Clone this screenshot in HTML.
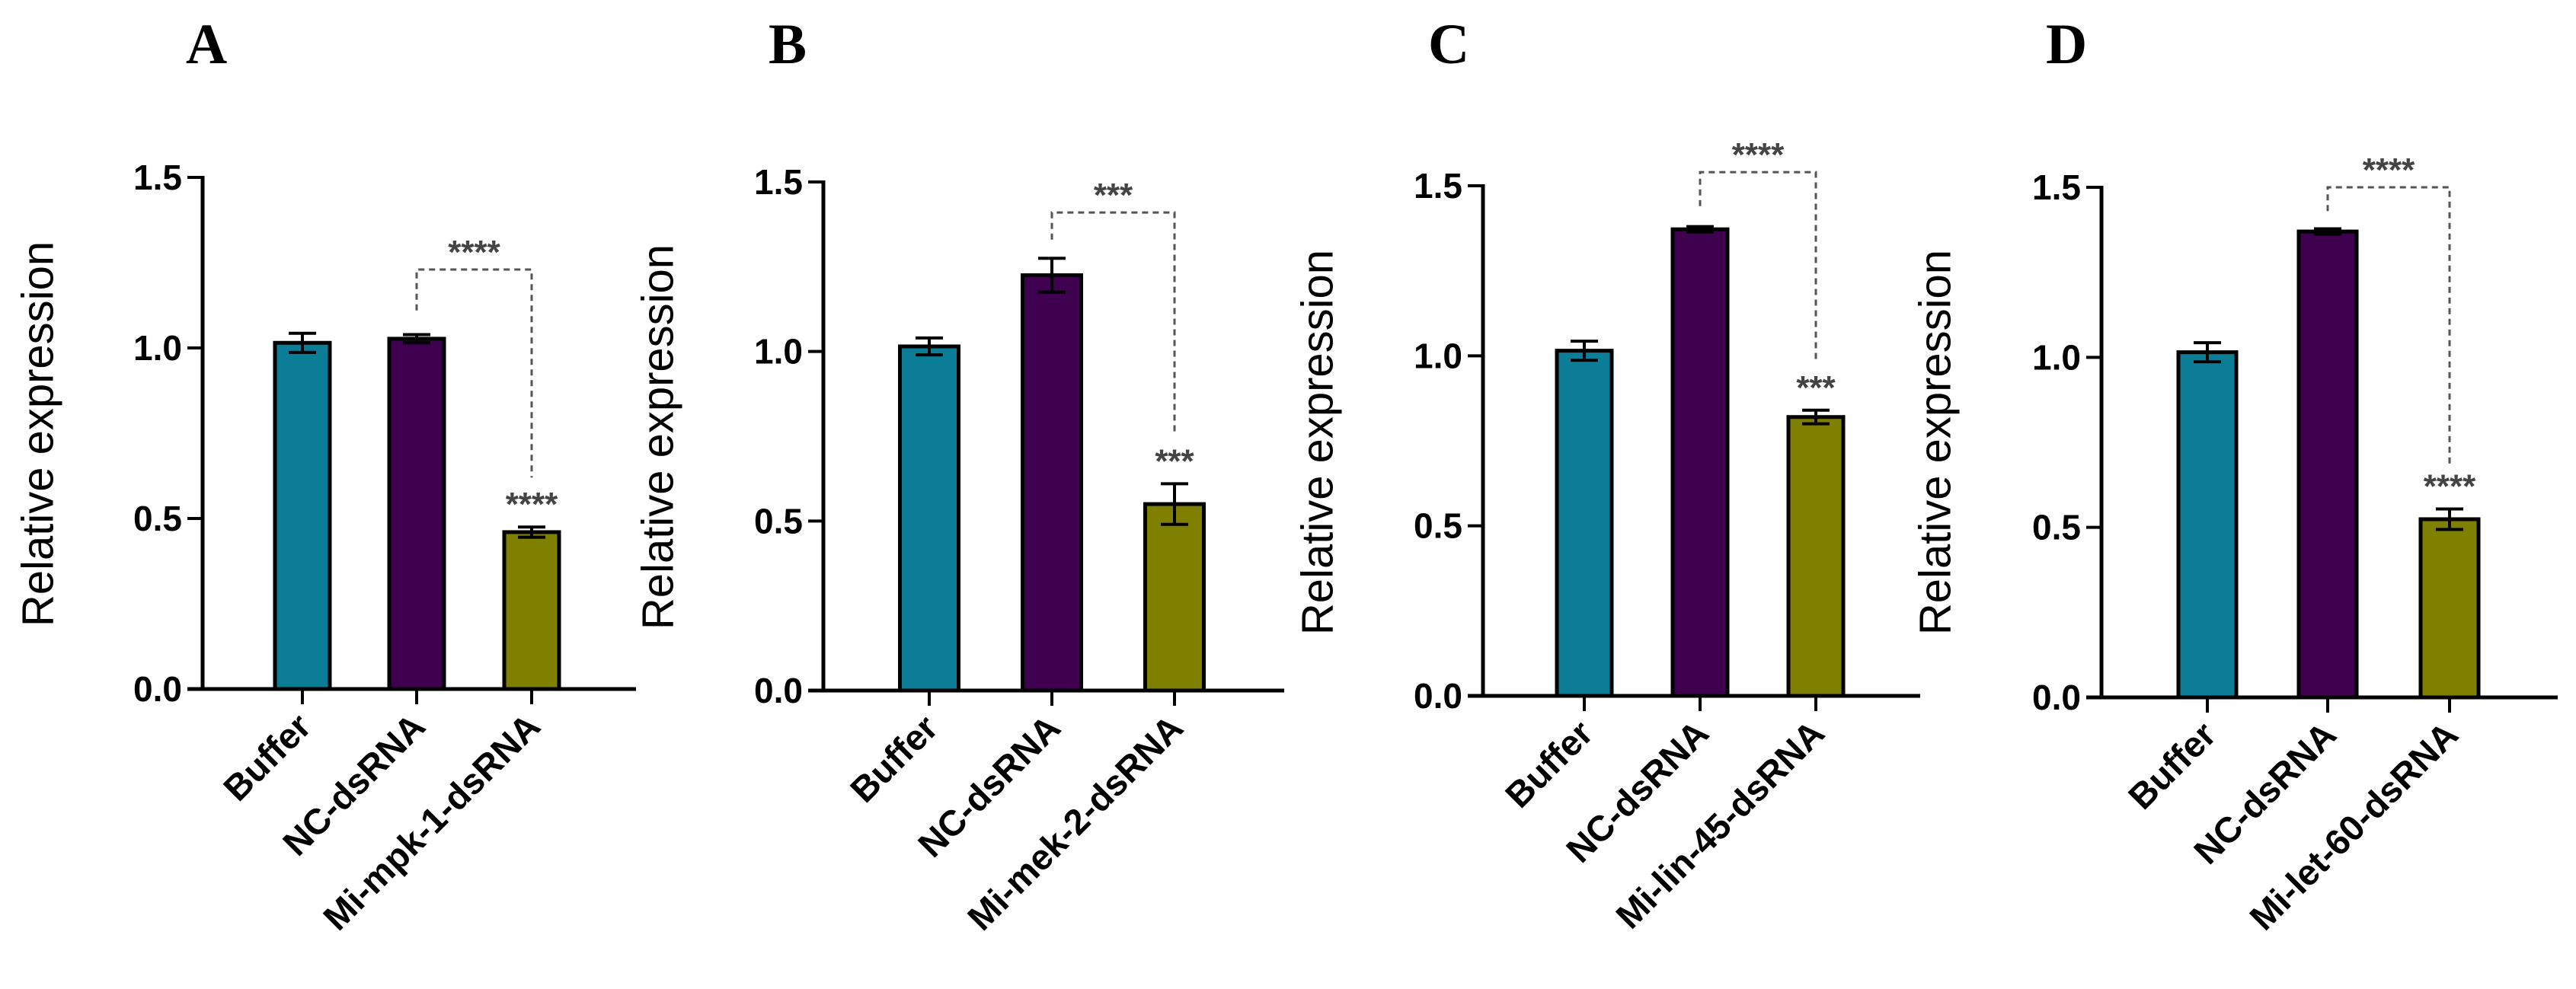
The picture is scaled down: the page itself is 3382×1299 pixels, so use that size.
<!DOCTYPE html>
<html>
<head>
<meta charset="utf-8">
<style>
html,body{margin:0;padding:0;background:#fff;}
svg{display:block;}
</style>
</head>
<body>
<svg id="fig" width="3382" height="1299" viewBox="0 0 3382 1299" xmlns="http://www.w3.org/2000/svg"></svg>
<script>
// ---- data ----
const categoriesA = ["Buffer", "NC-dsRNA", "Mi-mpk-1-dsRNA"];
const categoriesB = ["Buffer", "NC-dsRNA", "Mi-mek-2-dsRNA"];
const categoriesC = ["Buffer", "NC-dsRNA", "Mi-lin-45-dsRNA"];
const categoriesD = ["Buffer", "NC-dsRNA", "Mi-let-60-dsRNA"];
const valuesA = [1.015, 1.027, 0.46];
const valuesB = [1.015, 1.225, 0.55];
const valuesC = [1.015, 1.372, 0.82];
const valuesD = [1.015, 1.37, 0.524];
const errorsA = [0.028, 0.012, 0.015];
const errorsB = [0.025, 0.05, 0.06];
const errorsC = [0.028, 0.008, 0.02];
const errorsD = [0.028, 0.008, 0.03];
const bracketTop = [1.23, 1.41, 1.54, 1.5];
const bracketLeftEnd = [1.11, 1.33, 1.44, 1.43];
const bracketRightEnd = [0.62, 0.76, 0.98, 0.68];
const bracketStars = ["****", "***", "****", "****"];
const barStars = ["****", "***", "***", "****"];
const panelTitles = ["A", "B", "C", "D"];
const yTicks = [0, 0.5, 1.0, 1.5];
const yTickLabels = ["0.0", "0.5", "1.0", "1.5"];
const colors = ["#0b7d96", "#400050", "#7f7f00"];

// ---- layout (pixels, not data) ----
const layouts = [
  {ax:266, y0:905, y15:233, ticks:[397,547,698], bw:72, end:835, tx:244, ylx:50, yly:570},
  {ax:1081, y0:907, y15:239, ticks:[1220,1381,1542], bw:77, end:1686, tx:1009, ylx:864, yly:574},
  {ax:1947, y0:914, y15:244, ticks:[2080,2232,2384], bw:72, end:2521, tx:1875, ylx:1730, yly:581},
  {ax:2759, y0:916, y15:246, ticks:[2898,3056,3216], bw:76, end:3358, tx:2686, ylx:2541, yly:581}
];
const cats = [categoriesA, categoriesB, categoriesC, categoriesD];
const vals = [valuesA, valuesB, valuesC, valuesD];
const errs = [errorsA, errorsB, errorsC, errorsD];

const svg = document.getElementById('fig');
const NS = 'http://www.w3.org/2000/svg';
function mk(tag, attrs, parent){
  const e = document.createElementNS(NS, tag);
  for (const k in attrs) e.setAttribute(k, attrs[k]);
  (parent||svg).appendChild(e);
  return e;
}

for (let p = 0; p < 4; p++) {
  const L = layouts[p];
  const y = v => L.y0 - (L.y0 - L.y15) * v / 1.5;
  const g = mk('g', {});
  
  

  const t = mk('text', {x:L.tx, y:83, 'font-family':'Liberation Serif, serif', 'font-weight':'bold', 'font-size':75, fill:'#000'}, g);
  t.textContent = panelTitles[p];
  
  

  const yl = mk('text', {x:L.ylx, y:L.yly, transform:'rotate(-90 '+L.ylx+' '+L.yly+')', 'text-anchor':'middle', 'dominant-baseline':'central', 'font-family':'Liberation Sans, sans-serif', 'font-size':58, fill:'#000'}, g);
  yl.textContent = 'Relative expression';
  
  

  for (let i = 0; i < 3; i++) {
    const cx = L.ticks[i];
    const top = y(vals[p][i]);
    const r = mk('rect', {x:cx - L.bw/2, y:top, width:L.bw, height:L.y0 - top, fill:colors[i], stroke:'#000', 'stroke-width':5}, g);
    
    
    const eh = y(vals[p][i] + errs[p][i]), el = y(vals[p][i] - errs[p][i]);
    const eb = mk('path', {d:'M'+cx+' '+eh+'V'+el+'M'+(cx-18)+' '+eh+'H'+(cx+18)+'M'+(cx-18)+' '+el+'H'+(cx+18), stroke:'#000', 'stroke-width':4, fill:'none'}, g);
    
    
    const xt = mk('line', {x1:cx, x2:cx, y1:L.y0, y2:L.y0 + 20, stroke:'#000', 'stroke-width':4}, g);
    
    
    const ax = cx + 14, ay = L.y0 + 52;
    const xl = mk('text', {x:ax, y:ay, transform:'rotate(-45 '+ax+' '+ay+')', 'text-anchor':'end', 'font-family':'Liberation Sans, sans-serif', 'font-weight':'bold', 'font-size':47, fill:'#000'}, g);
    xl.textContent = cats[p][i];
    
    
  }

  const yaxis = mk('line', {x1:L.ax, x2:L.ax, y1:L.y15 - 2, y2:L.y0 + 2, stroke:'#000', 'stroke-width':5}, g);
  
  
  const xaxis = mk('line', {x1:L.ax - 20, x2:L.end, y1:L.y0, y2:L.y0, stroke:'#000', 'stroke-width':5}, g);
  
  
  for (let k = 0; k < yTicks.length; k++) {
    const ty = y(yTicks[k]);
    const tk = mk('line', {x1:L.ax - 20, x2:L.ax, y1:ty, y2:ty, stroke:'#000', 'stroke-width':4}, g);
    
    
    const tl = mk('text', {x:L.ax - 27, y:ty, 'text-anchor':'end', 'dominant-baseline':'central', 'font-family':'Liberation Sans, sans-serif', 'font-weight':'bold', 'font-size':46, fill:'#000'}, g);
    tl.textContent = yTickLabels[k];
    
    
  }

  const xl1 = L.ticks[1], xr = L.ticks[2], yt = y(bracketTop[p]);
  const br = mk('path', {d:'M'+xl1+' '+y(bracketLeftEnd[p])+'V'+yt+'H'+xr+'V'+y(bracketRightEnd[p]), stroke:'#555', 'stroke-width':3, fill:'none', 'stroke-dasharray':'8 6'}, g);
  
  
  const s1 = mk('text', {x:(xl1 + xr)/2, y:yt - 8, 'text-anchor':'middle', 'font-family':'Liberation Sans, sans-serif', 'font-weight':'bold', 'font-size':44, fill:'#444'}, g);
  s1.textContent = bracketStars[p];
  
  
  const s2 = mk('text', {x:xr, y:y(vals[p][2] + errs[p][2]) - 15, 'text-anchor':'middle', 'font-family':'Liberation Sans, sans-serif', 'font-weight':'bold', 'font-size':44, fill:'#444'}, g);
  s2.textContent = barStars[p];
  
  
}
</script>
</body>
</html>
